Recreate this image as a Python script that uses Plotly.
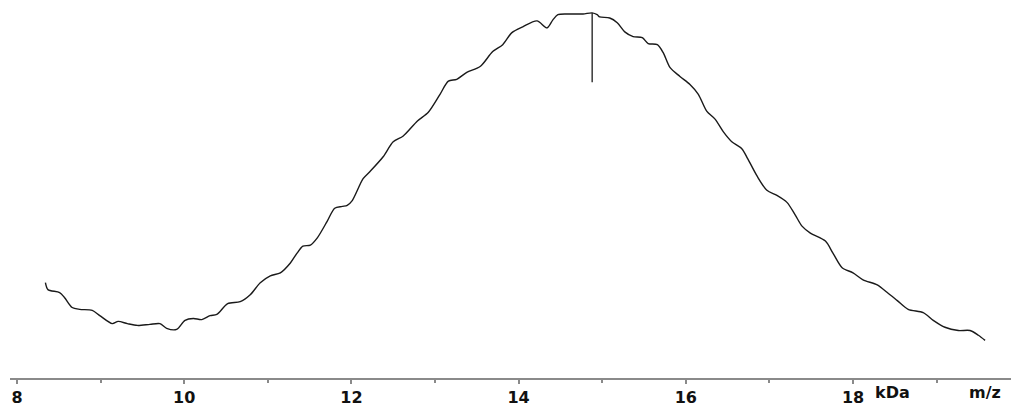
import plotly.graph_objects as go

# Mass (kDa) and relative intensity (%)
mass_kda = [8.34, 8.37, 8.51, 8.57, 8.66, 8.75, 8.90, 8.99, 9.14, 9.21, 9.32, 9.44,
            9.59, 9.71, 9.79, 9.91, 10.01, 10.11, 10.21, 10.31, 10.39, 10.52, 10.67,
            10.79, 10.91, 11.03, 11.15, 11.27, 11.35, 11.42, 11.51, 11.59, 11.71,
            11.80, 11.89, 11.95, 12.01, 12.14, 12.22, 12.38, 12.50, 12.62, 12.79,
            12.92, 13.06, 13.16, 13.26, 13.38, 13.54, 13.69, 13.81, 13.92, 14.05,
            14.22, 14.34, 14.41, 14.47, 14.58, 14.77, 14.88, 14.94, 14.97, 15.09,
            15.18, 15.27, 15.37, 15.48, 15.55, 15.66, 15.73, 15.81, 15.93, 16.05,
            16.15, 16.25, 16.35, 16.45, 16.55, 16.67, 16.74, 16.85, 16.97, 17.09,
            17.21, 17.31, 17.39, 17.49, 17.67, 17.76, 17.87, 18.00, 18.12, 18.29,
            18.41, 18.53, 18.66, 18.84, 18.96, 19.10, 19.26, 19.40, 19.50, 19.58]
intensity = [26.1, 24.2, 23.4, 22.0, 19.3, 18.8, 18.5, 17.1, 14.9, 15.5, 14.9, 14.4,
             14.7, 14.9, 13.6, 13.3, 15.8, 16.3, 16.0, 17.1, 17.4, 20.4, 20.9,
             22.8, 26.1, 28.0, 28.8, 31.5, 34.2, 36.1, 36.4, 38.3, 42.9,
             46.5, 47.0, 47.3, 48.6, 54.6, 56.5, 60.6, 64.7, 66.3, 70.4,
             72.8, 77.7, 81.3, 81.8, 83.7, 85.3, 89.4, 91.3, 94.6, 96.2,
             97.8, 95.9, 98.1, 99.5, 99.7, 99.7, 100.0, 99.5, 98.9, 98.6,
             97.3, 94.8, 93.5, 93.2, 91.6, 91.3, 89.1, 85.1, 82.6, 80.4,
             77.7, 73.1, 70.9, 67.4, 64.7, 62.8, 60.1, 55.4, 51.4, 50.0,
             48.1, 44.6, 41.6, 39.7, 37.5, 34.2, 30.2, 28.8, 26.9, 25.5,
             23.4, 21.2, 18.8, 17.9, 15.8, 13.9, 13.0, 13.0, 11.7, 10.3]

# Peak marker (apex position and marker extent)
peak_mass = [14.88, 14.88]
peak_marker = [100.0, 81.0]

tick_vals = [8, 10, 12, 14, 16, 18]
tick_text = ["8", "10", "12", "14", "16", "18"]
unit_label = "kDa"
axis_title = "m/z"

label_font = dict(family="DejaVu Sans", size=16, color="#111111")

fig = go.Figure()
fig.add_trace(go.Scatter(x=mass_kda, y=intensity, mode="lines",
                         line=dict(color="#1a1a1a", width=1.4, shape="spline", smoothing=0.8),
                         hoverinfo="skip", showlegend=False))
fig.add_trace(go.Scatter(x=peak_mass, y=peak_marker, mode="lines",
                         line=dict(color="#1a1a1a", width=1.3),
                         hoverinfo="skip", showlegend=False))

fig.update_layout(
    width=1011, height=407,
    margin=dict(l=10, r=0, t=0, b=26),
    paper_bgcolor="white", plot_bgcolor="white",
    xaxis=dict(range=[7.9163, 19.890], showgrid=False, zeroline=False,
               showline=True, linecolor="#8a8a8a", linewidth=2,
               ticks="outside", ticklen=4, tickwidth=1.5, tickcolor="#8a8a8a",
               tickvals=tick_vals, ticktext=["<b>%s</b>" % t for t in tick_text],
               tickfont=label_font,
               minor=dict(dtick=1, tick0=8, ticks="outside", ticklen=3,
                          tickcolor="#8a8a8a", tickwidth=1.5, showgrid=False)),
    yaxis=dict(range=[0, 103.53], visible=False, fixedrange=True),
    annotations=[
        dict(x=18.24, y=-0.038, xref="x", yref="paper", xanchor="left", yanchor="middle",
             text="<b>%s</b>" % unit_label, showarrow=False, font=label_font),
        dict(x=19.364, y=-0.038, xref="x", yref="paper", xanchor="left", yanchor="middle",
             text="<b>%s</b>" % axis_title, showarrow=False, font=label_font),
    ],
)

fig.write_html("out.html")
